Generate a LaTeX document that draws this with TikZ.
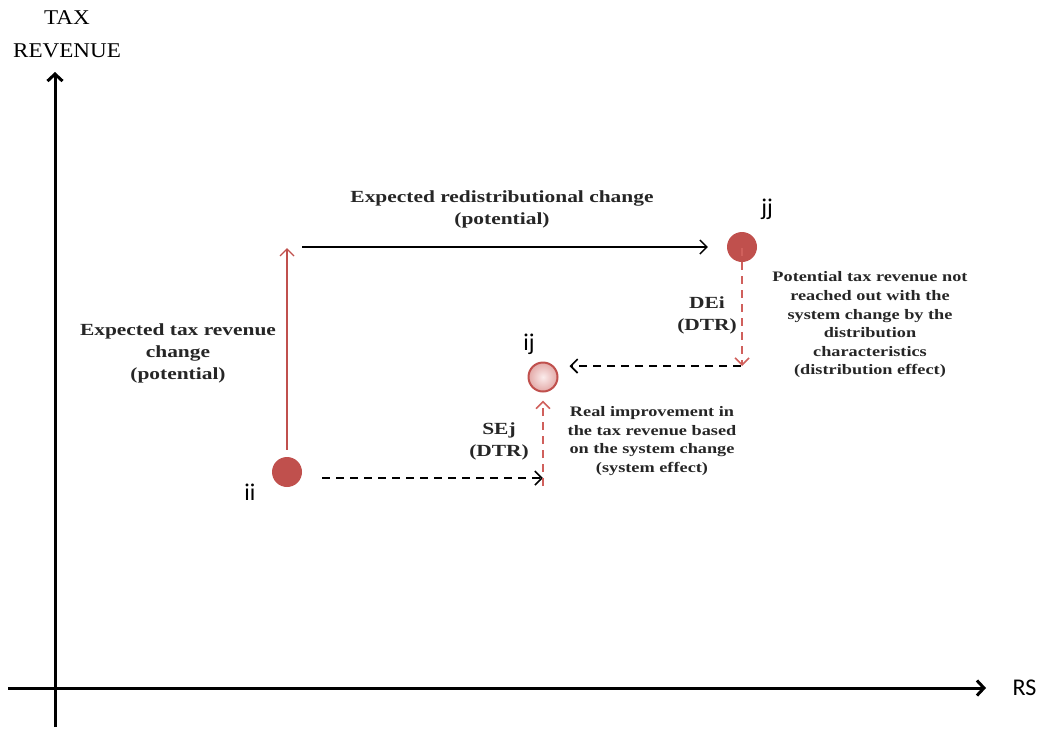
\documentclass[tikz,border=0pt]{standalone}
\usepackage{fontspec}
\setmainfont{Liberation Serif}
\newfontfamily\notefont[FakeStretch=1.26]{Liberation Serif}
\newfontfamily\axisfont[FakeStretch=1.1]{Liberation Serif}
\newfontfamily\ptfont{Carlito}
\usetikzlibrary{arrows.meta,positioning}

\definecolor{dotred}{HTML}{C0504D}
\definecolor{dashred}{HTML}{D0605C}
\definecolor{pinklight}{HTML}{FBECEC}
\definecolor{pinkdark}{HTML}{E3A9A7}

\begin{document}
\begin{tikzpicture}[
  x=1pt, y=-1pt,
  axis/.style={line width=3pt, -{Straight Barb[length=7pt, width=15pt, line width=3pt]}},
  axislabel/.style={align=center, font=\axisfont\fontsize{21}{33}\selectfont},
  dot/.style={circle, fill=dotred, minimum size=30pt, inner sep=0pt},
  hollowdot/.style={circle, draw=dotred, line width=2pt, inner color=pinklight, outer color=pinkdark, minimum size=29pt, inner sep=0pt},
  ptlabel/.style={font=\ptfont\fontsize{24}{26}\selectfont},
  potential/.style={line width=1.4pt, -{Straight Barb[length=7pt, width=14pt, line width=1.4pt]}},
  effect/.style={line width=1.6pt, dash pattern=on 8pt off 6pt, -{Straight Barb[length=7pt, width=14pt, line width=1.6pt]}},
  bignote/.style={align=center, font=\notefont\bfseries\fontsize{17}{22}\selectfont, text=black!85},
  note/.style={align=center, font=\notefont\bfseries\fontsize{14.5}{18.6}\selectfont, text=black!85}
]
\useasboundingbox (0,0) rectangle (1047,729);

% axes
\coordinate (origin) at (55,688);
\coordinate (ybot) at (55,727);
\coordinate (ytop) at (55,72);
\coordinate (xleft) at (8,688);
\coordinate (xright) at (986,688);
\draw[axis] (ybot) -- (ytop);
\draw[axis] (xleft) -- (xright);
\node[axislabel] (taxrev) at (67,34) {TAX\\REVENUE};
\node[ptlabel, anchor=west] (rs) at (1009,688) {RS};

% points
\node[dot] (ii) at (287,472) {};
\node[dot] (jj) at (742,247) {};
\node[hollowdot] (ij) at (543,377) {};
\node[ptlabel] (iilab) at (250,492) {ii};
\node[ptlabel] (jjlab) at (767,209) {jj};
\node[ptlabel] (ijlab) at (529,344) {ij};

% potential changes
\coordinate (vtop) at (287,248);
\coordinate (hstart) at (302,247);
\draw[potential, draw=dotred] (ii.north) ++(0,-7) -- (vtop);
\draw[potential] (hstart) -- ([xshift=-19pt]jj.west);
\node[bignote] (redist) at (502,209) {Expected redistributional change\\(potential)};
\node[bignote] (taxchange) at (178,353) {Expected tax revenue\\change\\(potential)};

% effects
\coordinate (sestart) at (322,478);
\coordinate (secorner) at (543,478);
\coordinate (decorner) at (742,366);
\draw[effect] (sestart) -- (secorner);
\draw[effect, draw=dashred] ([yshift=-8pt]secorner) -- ([yshift=-8pt]ij.south);
\draw[effect, draw=dashred] ([yshift=14pt]jj.south) -- (decorner);
\draw[effect] ([xshift=-1pt]decorner) -- ([xshift=11pt]decorner -| ij.east);
\node[bignote] (sej) at (499,441) {SEj\\(DTR)};
\node[bignote] (dei) at (707,315) {DEi\\(DTR)};
\node[note] (sysnote) at (652,441) {Real improvement in\\the tax revenue based\\on the system change\\(system effect)};
\node[note] (distnote) at (870,325) {Potential tax revenue not\\reached out with the\\system change by the\\distribution\\characteristics\\(distribution effect)};

\end{tikzpicture}
\end{document}
